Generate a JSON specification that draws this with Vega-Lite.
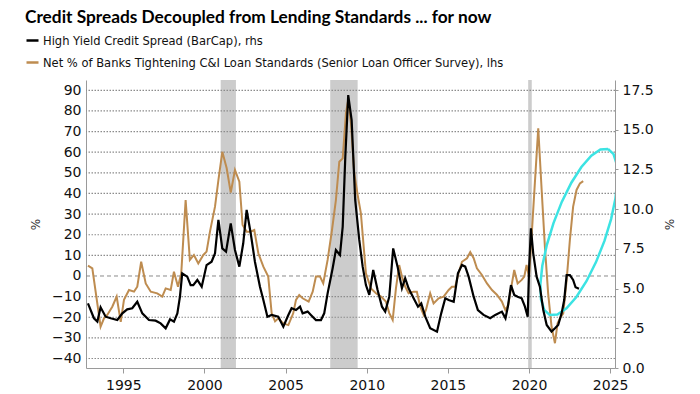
{
  "$schema": "https://vega.github.io/schema/vega-lite/v6.json",
  "width": 529,
  "height": 288,
  "autosize": {"type": "none"},
  "padding": {"left": 86, "top": 80, "right": 85, "bottom": 26},
  "background": "white",
  "title": {
    "text": "Credit Spreads Decoupled from Lending Standards ... for now",
    "anchor": "start",
    "frame": "group",
    "font": "Lato",
    "fontSize": 17.3,
    "fontWeight": "bold",
    "color": "#000000",
    "dx": -61,
    "offset": 7
  },
  "config": {
    "view": {"stroke": null},
    "axis": {
      "labelFont": "DejaVu Sans",
      "labelFontSize": 14,
      "labelColor": "#111111",
      "labelOverlap": false,
      "titleFont": "DejaVu Sans",
      "titleFontSize": 12,
      "titleFontWeight": "normal",
      "titleColor": "#333333",
      "domainColor": "#9a9a9a",
      "tickColor": "#9a9a9a"
    },
    "legend": {
      "orient": "none",
      "legendX": -61,
      "legendY": -47,
      "direction": "vertical",
      "symbolType": "stroke",
      "symbolSize": 144,
      "symbolStrokeWidth": 2.5,
      "labelFont": "DejaVu Sans Condensed",
      "labelFontSize": 12.8,
      "labelColor": "#111111",
      "labelLimit": 700,
      "labelOffset": 3,
      "rowPadding": 7,
      "padding": 0
    }
  },
  "datasets": {
    "rec": [
      {"a": 2001.0, "b": 2001.94},
      {"a": 2007.75, "b": 2009.44},
      {"a": 2019.95, "b": 2020.17}
    ],
    "grid": [
      {"g": -40}, {"g": -30}, {"g": -20}, {"g": -10}, {"g": 10}, {"g": 20}, {"g": 30}, {"g": 40}, {"g": 50}, {"g": 60}, {"g": 70}, {"g": 80}, {"g": 90}
    ],
    "tan": [
      {"t":1992.82,"v":5.0},{"t":1993.09,"v":3.7},{"t":1993.6,"v":-24.6},{"t":1993.81,"v":-20.5},{"t":1994.01,"v":-18.9},{"t":1994.32,"v":-14.9},{"t":1994.59,"v":-10.0},{"t":1994.84,"v":-22.2},{"t":1995.04,"v":-11.6},{"t":1995.35,"v":-6.8},{"t":1995.66,"v":-7.6},{"t":1995.86,"v":-5.2},{"t":1996.1,"v":6.9},{"t":1996.38,"v":-3.6},{"t":1996.69,"v":-7.6},{"t":1997.09,"v":-8.4},{"t":1997.4,"v":-10.0},{"t":1997.61,"v":-6.0},{"t":1997.92,"v":-6.8},{"t":1998.12,"v":2.1},{"t":1998.37,"v":-5.2},{"t":1998.57,"v":1.3},{"t":1998.84,"v":36.8},{"t":1999.1,"v":7.8},{"t":1999.35,"v":10.2},{"t":1999.62,"v":6.1},{"t":1999.93,"v":10.2},{"t":2000.13,"v":11.8},{"t":2000.34,"v":21.5},{"t":2000.65,"v":33.6},{"t":2000.86,"v":46.5},{"t":2001.1,"v":60.2},{"t":2001.37,"v":52.2},{"t":2001.62,"v":40.4},{"t":2001.88,"v":51.4},{"t":2002.15,"v":45.7},{"t":2002.35,"v":24.7},{"t":2002.6,"v":21.5},{"t":2002.85,"v":21.5},{"t":2003.07,"v":22.3},{"t":2003.32,"v":11.0},{"t":2003.63,"v":4.5},{"t":2003.93,"v":-0.3},{"t":2004.14,"v":-18.0},{"t":2004.35,"v":-22.0},{"t":2004.55,"v":-20.5},{"t":2004.86,"v":-23.0},{"t":2005.17,"v":-23.8},{"t":2005.47,"v":-18.1},{"t":2005.64,"v":-11.6},{"t":2005.84,"v":-9.2},{"t":2006.05,"v":-10.8},{"t":2006.42,"v":-12.4},{"t":2006.67,"v":-7.6},{"t":2006.87,"v":-0.3},{"t":2007.12,"v":-0.3},{"t":2007.32,"v":-3.6},{"t":2007.59,"v":7.8},{"t":2007.86,"v":22.3},{"t":2008.1,"v":36.8},{"t":2008.31,"v":55.4},{"t":2008.52,"v":57.0},{"t":2008.72,"v":78.9},{"t":2008.86,"v":85.3},{"t":2009.03,"v":74.0},{"t":2009.23,"v":49.8},{"t":2009.44,"v":39.3},{"t":2009.64,"v":30.4},{"t":2009.95,"v":1.3},{"t":2010.26,"v":-6.0},{"t":2010.57,"v":-8.4},{"t":2010.88,"v":-10.0},{"t":2011.18,"v":-12.4},{"t":2011.39,"v":-18.0},{"t":2011.6,"v":-21.3},{"t":2011.8,"v":-6.0},{"t":2012.0,"v":5.3},{"t":2012.17,"v":-0.3},{"t":2012.37,"v":-5.2},{"t":2012.58,"v":-8.4},{"t":2012.89,"v":-7.6},{"t":2013.09,"v":-7.6},{"t":2013.3,"v":-14.9},{"t":2013.51,"v":-18.9},{"t":2013.65,"v":-16.5},{"t":2013.91,"v":-8.4},{"t":2014.12,"v":-13.3},{"t":2014.43,"v":-10.8},{"t":2014.74,"v":-10.0},{"t":2015.05,"v":-6.8},{"t":2015.25,"v":-5.2},{"t":2015.45,"v":-5.2},{"t":2015.66,"v":1.3},{"t":2015.87,"v":6.9},{"t":2016.18,"v":8.6},{"t":2016.38,"v":11.6},{"t":2016.59,"v":8.6},{"t":2016.79,"v":3.7},{"t":2017.1,"v":0.5},{"t":2017.41,"v":-3.6},{"t":2017.72,"v":-6.8},{"t":2018.02,"v":-9.1},{"t":2018.33,"v":-12.4},{"t":2018.54,"v":-16.5},{"t":2018.72,"v":-14.0},{"t":2018.93,"v":-4.4},{"t":2019.09,"v":2.9},{"t":2019.3,"v":-3.6},{"t":2019.55,"v":-1.9},{"t":2019.71,"v":-0.3},{"t":2019.85,"v":5.3},{"t":2020.0,"v":-0.3},{"t":2020.16,"v":19.1},{"t":2020.36,"v":44.9},{"t":2020.57,"v":71.6},{"t":2020.78,"v":41.7},{"t":2020.98,"v":14.2},{"t":2021.18,"v":-8.4},{"t":2021.39,"v":-24.6},{"t":2021.6,"v":-32.6},{"t":2021.76,"v":-22.9},{"t":2021.91,"v":-20.5},{"t":2022.11,"v":-18.1},{"t":2022.32,"v":-1.9},{"t":2022.52,"v":17.5},{"t":2022.72,"v":33.6},{"t":2022.93,"v":41.7},{"t":2023.14,"v":44.9},{"t":2023.34,"v":46.0}
    ],
    "hy": [
      {"t":1992.82,"v":4.07},{"t":1993.19,"v":3.13},{"t":1993.4,"v":2.92},{"t":1993.6,"v":3.82},{"t":1993.91,"v":3.23},{"t":1994.22,"v":3.13},{"t":1994.63,"v":3.02},{"t":1994.94,"v":3.44},{"t":1995.24,"v":3.69},{"t":1995.55,"v":3.76},{"t":1995.86,"v":4.17},{"t":1996.17,"v":3.44},{"t":1996.58,"v":3.02},{"t":1996.99,"v":2.98},{"t":1997.3,"v":2.81},{"t":1997.61,"v":2.5},{"t":1997.88,"v":3.06},{"t":1998.12,"v":2.92},{"t":1998.33,"v":3.44},{"t":1998.49,"v":4.49},{"t":1998.63,"v":5.96},{"t":1998.94,"v":5.75},{"t":1999.15,"v":5.22},{"t":1999.31,"v":5.22},{"t":1999.56,"v":5.54},{"t":1999.83,"v":5.12},{"t":2000.13,"v":6.48},{"t":2000.44,"v":6.69},{"t":2000.65,"v":7.22},{"t":2000.86,"v":9.32},{"t":2001.1,"v":7.53},{"t":2001.33,"v":7.32},{"t":2001.62,"v":9.1},{"t":2001.88,"v":7.43},{"t":2002.15,"v":6.38},{"t":2002.39,"v":7.85},{"t":2002.6,"v":9.95},{"t":2002.85,"v":8.48},{"t":2003.11,"v":6.69},{"t":2003.42,"v":5.12},{"t":2003.63,"v":4.28},{"t":2003.88,"v":3.23},{"t":2004.14,"v":3.34},{"t":2004.55,"v":3.23},{"t":2004.86,"v":2.6},{"t":2005.17,"v":3.34},{"t":2005.37,"v":3.76},{"t":2005.64,"v":3.65},{"t":2005.89,"v":3.86},{"t":2006.05,"v":3.44},{"t":2006.36,"v":3.55},{"t":2006.56,"v":3.34},{"t":2006.87,"v":3.02},{"t":2007.18,"v":3.02},{"t":2007.38,"v":3.44},{"t":2007.59,"v":4.7},{"t":2007.9,"v":6.28},{"t":2008.1,"v":7.43},{"t":2008.35,"v":7.11},{"t":2008.52,"v":8.9},{"t":2008.68,"v":13.3},{"t":2008.86,"v":17.18},{"t":2009.07,"v":15.6},{"t":2009.29,"v":10.58},{"t":2009.54,"v":8.06},{"t":2009.75,"v":6.38},{"t":2009.95,"v":5.22},{"t":2010.16,"v":4.6},{"t":2010.4,"v":6.17},{"t":2010.67,"v":4.91},{"t":2010.94,"v":3.86},{"t":2011.14,"v":3.55},{"t":2011.39,"v":4.49},{"t":2011.63,"v":7.53},{"t":2011.9,"v":6.38},{"t":2012.17,"v":5.02},{"t":2012.37,"v":5.65},{"t":2012.58,"v":5.02},{"t":2012.89,"v":4.39},{"t":2013.16,"v":3.86},{"t":2013.36,"v":4.07},{"t":2013.61,"v":3.23},{"t":2013.91,"v":2.5},{"t":2014.33,"v":2.29},{"t":2014.59,"v":3.44},{"t":2014.84,"v":4.39},{"t":2015.05,"v":4.28},{"t":2015.36,"v":4.17},{"t":2015.62,"v":5.96},{"t":2015.87,"v":6.48},{"t":2016.07,"v":6.38},{"t":2016.28,"v":5.75},{"t":2016.59,"v":4.49},{"t":2016.85,"v":3.65},{"t":2017.2,"v":3.34},{"t":2017.61,"v":3.13},{"t":2017.92,"v":3.34},{"t":2018.33,"v":3.55},{"t":2018.55,"v":3.13},{"t":2018.7,"v":3.86},{"t":2018.89,"v":5.22},{"t":2019.09,"v":4.6},{"t":2019.3,"v":4.49},{"t":2019.55,"v":4.39},{"t":2019.75,"v":3.86},{"t":2019.92,"v":3.23},{"t":2020.01,"v":6.38},{"t":2020.12,"v":8.79},{"t":2020.26,"v":7.22},{"t":2020.47,"v":5.75},{"t":2020.67,"v":5.12},{"t":2020.88,"v":3.65},{"t":2021.09,"v":2.71},{"t":2021.39,"v":2.29},{"t":2021.6,"v":2.5},{"t":2021.8,"v":2.71},{"t":2022.01,"v":3.44},{"t":2022.17,"v":4.28},{"t":2022.32,"v":5.85},{"t":2022.52,"v":5.85},{"t":2022.72,"v":5.54},{"t":2022.87,"v":5.08},{"t":2023.08,"v":4.99}
    ],
    "ell": [
      {"i":0,"t":2024.87,"v":61.59},{"i":1,"t":2024.40,"v":61.33},{"i":2,"t":2023.84,"v":58.35},{"i":3,"t":2023.23,"v":52.85},{"i":4,"t":2022.61,"v":45.20},{"i":5,"t":2022.02,"v":35.92},{"i":6,"t":2021.51,"v":25.65},{"i":7,"t":2021.10,"v":15.09},{"i":8,"t":2020.82,"v":4.94},{"i":9,"t":2020.70,"v":-4.08},{"i":10,"t":2020.74,"v":-11.37},{"i":11,"t":2020.94,"v":-16.44},{"i":12,"t":2021.28,"v":-18.93},{"i":13,"t":2021.75,"v":-18.68},{"i":14,"t":2022.31,"v":-15.70},{"i":15,"t":2022.92,"v":-10.19},{"i":16,"t":2023.54,"v":-2.54},{"i":17,"t":2024.13,"v":6.73},{"i":18,"t":2024.65,"v":17.00},{"i":19,"t":2025.06,"v":27.57},{"i":20,"t":2025.33,"v":37.72},{"i":21,"t":2025.45,"v":46.73},{"i":22,"t":2025.41,"v":54.03},{"i":23,"t":2025.21,"v":59.09},{"i":24,"t":2024.87,"v":61.59}
    ],
    "zero": [{"z": 0}]
  },
  "layer": [
    {
      "data": {"name": "rec"},
      "mark": {"type": "rect", "color": "#cccccc"},
      "encoding": {
        "x": {
          "field": "a", "type": "quantitative",
          "scale": {"domain": [1992.7, 2025.3], "nice": false, "zero": false},
          "axis": {
            "values": [1995, 2000, 2005, 2010, 2015, 2020, 2025],
            "format": "d",
            "title": null,
            "grid": false,
            "tickSize": 5,
            "labelPadding": 5
          }
        },
        "x2": {"field": "b"}
      }
    },
    {
      "layer": [
        {
          "data": {"name": "grid"},
          "mark": {"type": "rule", "color": "#8c8c8c", "strokeDash": [1.5, 1.5], "strokeWidth": 1.2},
          "encoding": {
            "y": {
              "field": "g", "type": "quantitative",
              "scale": {"domain": [-44.6, 95], "nice": false, "zero": false},
              "axis": {
                "orient": "left",
                "values": [-40, -30, -20, -10, 0, 10, 20, 30, 40, 50, 60, 70, 80, 90],
                "labelOverlap": false,
                "title": "%",
                "grid": false,
                "ticks": false,
                "labelPadding": 5,
                "titlePadding": 9
              }
            }
          }
        },
        {
          "data": {"name": "zero"},
          "mark": {"type": "rule", "color": "#8a8a8a", "strokeDash": [4, 3], "strokeWidth": 1},
          "encoding": {
            "y": {
              "field": "z", "type": "quantitative",
              "scale": {"domain": [-44.6, 95], "nice": false, "zero": false},
              "axis": {
                "orient": "left",
                "values": [-40, -30, -20, -10, 0, 10, 20, 30, 40, 50, 60, 70, 80, 90],
                "labelOverlap": false,
                "title": "%",
                "grid": false,
                "ticks": false,
                "labelPadding": 5,
                "titlePadding": 9
              }
            }
          }
        },
        {
          "data": {"name": "tan"},
          "mark": {"type": "line", "strokeWidth": 2},
          "encoding": {
            "x": {"field": "t", "type": "quantitative"},
            "y": {
              "field": "v", "type": "quantitative",
              "scale": {"domain": [-44.6, 95], "nice": false, "zero": false},
              "axis": {
                "orient": "left",
                "values": [-40, -30, -20, -10, 0, 10, 20, 30, 40, 50, 60, 70, 80, 90],
                "labelOverlap": false,
                "title": "%",
                "grid": false,
                "ticks": false,
                "labelPadding": 5,
                "titlePadding": 9
              }
            },
            "color": {
              "datum": "Net % of Banks Tightening C&I Loan Standards (Senior Loan Officer Survey), lhs",
              "type": "nominal",
              "scale": {
                "domain": ["High Yield Credit Spread (BarCap), rhs", "Net % of Banks Tightening C&I Loan Standards (Senior Loan Officer Survey), lhs"],
                "range": ["#000000", "#BE8C50"]
              },
              "legend": {"title": null}
            }
          }
        },
        {
          "data": {"name": "ell"},
          "mark": {"type": "line", "strokeWidth": 2.5, "color": "#3CE3E3", "clip": true},
          "encoding": {
            "x": {"field": "t", "type": "quantitative"},
            "y": {
              "field": "v", "type": "quantitative",
              "scale": {"domain": [-44.6, 95], "nice": false, "zero": false},
              "axis": {
                "orient": "left",
                "values": [-40, -30, -20, -10, 0, 10, 20, 30, 40, 50, 60, 70, 80, 90],
                "labelOverlap": false,
                "title": "%",
                "grid": false,
                "ticks": false,
                "labelPadding": 5,
                "titlePadding": 9
              }
            },
            "order": {"field": "i", "type": "quantitative"}
          }
        }
      ]
    },
    {
      "data": {"name": "hy"},
      "mark": {"type": "line", "strokeWidth": 2.2},
      "encoding": {
        "x": {"field": "t", "type": "quantitative"},
        "y": {
          "field": "v", "type": "quantitative",
          "scale": {"domain": [0, 18.13], "nice": false, "zero": false},
          "axis": {
            "orient": "right",
            "values": [0, 2.5, 5, 7.5, 10, 12.5, 15, 17.5],
            "format": ".1f",
            "labelOverlap": false,
            "title": "%",
            "grid": false,
            "tickSize": 3,
            "labelPadding": 4,
            "titlePadding": 8
          }
        },
        "color": {
          "datum": "High Yield Credit Spread (BarCap), rhs",
          "type": "nominal",
          "legend": {"title": null}
        }
      }
    }
  ],
  "resolve": {"scale": {"y": "independent"}}
}
